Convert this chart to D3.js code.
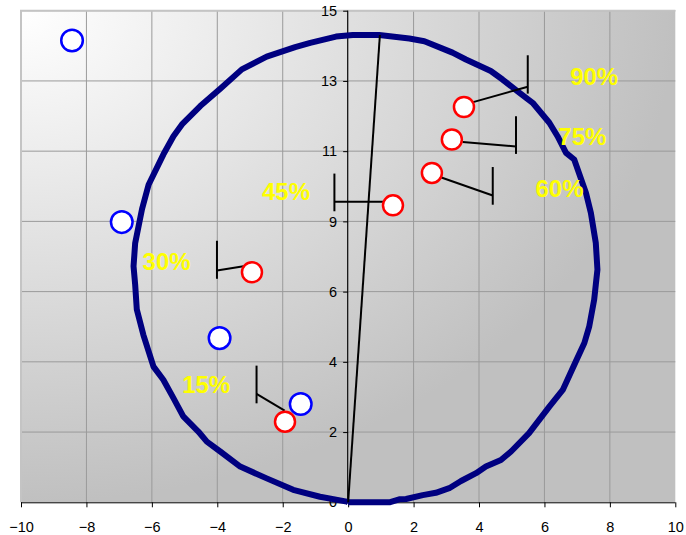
<!DOCTYPE html>
<html><head><meta charset="utf-8">
<script src="https://cdn.jsdelivr.net/npm/d3@7"></script>
<style>body{margin:0;background:#fff}svg{display:block}</style>
</head><body><svg id="c" width="686" height="535"></svg>
<script>
// ---- data ----
const xTickValues = [-10, -8, -6, -4, -2, 0, 2, 4, 6, 8, 10];
const yTickLabels = ["0", "2", "4", "6", "9", "11", "13", "15"];

const curveX = [0, 1.26, 1.56, 1.77, 2.28, 2.68, 3.09, 3.45, 3.91, 4.21, 4.67, 4.98, 5.53, 6.15, 6.56, 6.96, 7.22, 7.37, 7.52, 7.57, 7.62, 7.57, 7.42, 7.27, 6.91, 6.66, 6.40, 6.15, 5.64, 5.18, 4.72, 4.36, 3.60, 3.19, 2.33, 1.87, 0.95, 0.14, -0.37, -1.16, -1.62, -2.49, -3.25, -3.91, -4.52, -5.08, -5.34, -5.65, -6.10, -6.30, -6.51, -6.56, -6.51, -6.46, -6.26, -5.95, -5.65, -5.34, -5.04, -4.58, -4.32, -3.91, -3.30, -2.49, -1.68, -0.86, -0.04, 0];
const curveY = [0, 0, 0.09, 0.10, 0.22, 0.29, 0.43, 0.65, 0.89, 1.09, 1.29, 1.55, 2.11, 2.92, 3.43, 4.30, 4.86, 5.37, 6.18, 6.64, 7.10, 7.91, 8.83, 9.44, 10.46, 10.66, 11.17, 11.58, 12.19, 12.54, 12.90, 13.16, 13.51, 13.72, 14.07, 14.15, 14.26, 14.26, 14.21, 14.02, 13.89, 13.60, 13.21, 12.62, 12.09, 11.53, 11.17, 10.61, 9.69, 8.95, 7.91, 7.20, 6.64, 5.88, 5.11, 4.14, 3.74, 3.18, 2.62, 2.16, 1.85, 1.55, 1.09, 0.73, 0.38, 0.17, 0.02, 0];

const axisLineX = [0, 0.97];
const axisLineY = [0, 14.26];

const blueX = [-8.44, -6.92, -3.93, -1.45];
const blueY = [14.09, 8.55, 5.01, 3.00];

const redX = [3.54, 3.17, 2.56, 1.37, -2.94, -1.93];
const redY = [12.06, 11.07, 10.05, 9.06, 7.02, 2.46];

const tailBarX   = [5.49, 5.13, 4.42, -0.42, -4.01, -2.80];
const tailJoinY  = [12.68, 10.86, 9.36, 9.17, 7.07, 3.31];
const tailTopY   = [13.64, 11.78, 10.23, 10.03, 7.98, 4.17];
const tailBotY   = [12.47, 10.63, 9.08, 8.88, 6.82, 3.02];
const tailEndX   = [3.82, 3.50, 2.74, 1.07, -3.15, -1.94];
const tailEndY   = [12.21, 10.99, 9.95, 9.17, 7.21, 2.80];

const labelText = ["90%", "75%", "60%", "45%", "30%", "15%"];
const labelX = [7.52, 7.16, 6.46, -1.90, -5.55, -4.34];
const labelY = [12.98, 11.15, 9.59, 9.47, 7.35, 3.60];

// ---- chart ----
const svg = d3.select("#c");
const L = 21, R = 675.3, T = 10.7, B = 502.3;
const x = d3.scaleLinear().domain([-10, 10]).range([L, R]);
const y = d3.scaleLinear().domain([0, 15]).range([B, T]);
const yTickValues = yTickLabels.map((d, i) => 15 * i / 7);
const FONT = "'Liberation Sans', Arial, sans-serif";

const defs = svg.append("defs");
const grad = defs.append("radialGradient").attr("id", "bg")
  .attr("cx", 0).attr("cy", 0).attr("r", 1).attr("fx", 0).attr("fy", 0);
grad.append("stop").attr("offset", "0%").attr("stop-color", "#ffffff");
grad.append("stop").attr("offset", "100%").attr("stop-color", "#c0c0c0");

svg.append("rect").attr("x", L).attr("y", T).attr("width", R - L).attr("height", B - T)
  .attr("fill", "url(#bg)");

// gridlines
const g = svg.append("g");
g.selectAll(".vg").data(xTickValues.filter(v => v > -10 && v < 10)).join("line")
  .attr("x1", d => x(d)).attr("x2", d => x(d)).attr("y1", T).attr("y2", B)
  .attr("stroke", "#9a9a9a").attr("stroke-width", 1);
g.selectAll(".hg").data(yTickValues.filter(v => v > 0)).join("line")
  .attr("x1", L).attr("x2", R).attr("y1", d => y(d)).attr("y2", d => y(d))
  .attr("stroke", "#9a9a9a").attr("stroke-width", 1);

// plot border (left & top)
svg.append("path").attr("d", `M${L},${B}V${T}H${R}`).attr("fill", "none")
  .attr("stroke", "#c4c4c4").attr("stroke-width", 2);

// axes
const xAxis = d3.axisBottom(x).tickValues(xTickValues).tickFormat(d3.format("d")).tickSize(5).tickPadding(14);
const gx = svg.append("g").attr("transform", `translate(0,${B})`).call(xAxis);
const yAxis = d3.axisLeft(y).tickValues(yTickValues).tickFormat((d, i) => yTickLabels[i]).tickSize(5).tickPadding(6);
const gy = svg.append("g").attr("transform", `translate(${x(0)},0)`).call(yAxis);
[gx, gy].forEach(a => {
  a.select(".domain").attr("stroke", "#000").attr("stroke-width", 1);
  a.selectAll(".tick line").attr("stroke", "#000");
  a.selectAll("text").attr("font-family", FONT).attr("font-size", "14.5px").attr("fill", "#000");
});
gx.select(".domain").attr("d", `M${L},0.5H${R}`);
gy.select(".domain").attr("d", `M-0.5,${B}V${T}`);

// curve
const line = d3.line().x(i => x(curveX[i])).y(i => y(curveY[i]));
svg.append("path").attr("d", line(d3.range(curveX.length)))
  .attr("fill", "none").attr("stroke", "#000080").attr("stroke-width", 6)
  .attr("stroke-linejoin", "round");

// line from origin
svg.append("line").attr("x1", x(axisLineX[0])).attr("y1", y(axisLineY[0]))
  .attr("x2", x(axisLineX[1])).attr("y2", y(axisLineY[1]))
  .attr("stroke", "#000").attr("stroke-width", 2);

// tails
const tails = svg.append("g").attr("stroke", "#000").attr("stroke-width", 2);
tailBarX.forEach((bx, i) => {
  tails.append("line").attr("x1", x(bx)).attr("x2", x(bx))
    .attr("y1", y(tailTopY[i])).attr("y2", y(tailBotY[i]));
  tails.append("line").attr("x1", x(bx)).attr("y1", y(tailJoinY[i]))
    .attr("x2", x(tailEndX[i])).attr("y2", y(tailEndY[i]));
});

// markers
svg.append("g").selectAll("circle").data(blueX).join("circle")
  .attr("cx", d => x(d)).attr("cy", (d, i) => y(blueY[i])).attr("r", 10.8)
  .attr("fill", "#fff").attr("stroke", "#0000ff").attr("stroke-width", 2.5);
svg.append("g").selectAll("circle").data(redX).join("circle")
  .attr("cx", d => x(d)).attr("cy", (d, i) => y(redY[i])).attr("r", 10)
  .attr("fill", "#fff").attr("stroke", "#ff0000").attr("stroke-width", 2.5);

// labels
svg.append("g").selectAll("text").data(labelText).join("text")
  .attr("x", (d, i) => x(labelX[i])).attr("y", (d, i) => y(labelY[i]))
  .attr("text-anchor", "middle").attr("dominant-baseline", "central")
  .attr("font-family", FONT).attr("font-weight", "bold").attr("font-size", "24px")
  .attr("fill", "#ffff00").text(d => d);
</script>
</body></html>
